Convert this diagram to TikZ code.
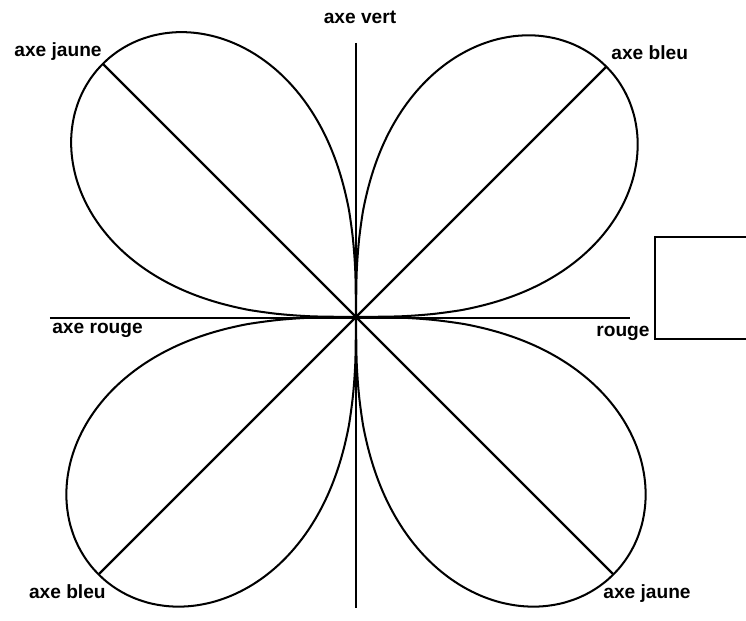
\documentclass[tikz,border=0pt]{standalone}
\usepackage{fontspec}
\setmainfont{Liberation Sans}
\usetikzlibrary{positioning, calc}

\begin{document}
\begin{tikzpicture}[
    x=0.02cm, y=0.02cm,
    axisline/.style={line width=1.2pt, draw=black},
    diagline/.style={line width=1.4pt, draw=black},
    lobe/.style={line width=1.15pt, draw=black, line join=round},
    axislabel/.style={font=\fontsize{10.9}{13}\selectfont\bfseries, inner sep=0pt},
    framebox/.style={line width=1.2pt, draw=black}
]

% === Page frame (reference proportions) ===
\useasboundingbox (-356, -304) rectangle (390, 317);

% === Layout constants ===
\def\lobeexp{0.6}

% === Centre and axis ends ===
\coordinate (c) at (0, 0);
\coordinate (hleft) at (-306, -1);
\coordinate (hright) at (274, -1);
\coordinate (vtop) at (0, 274);
\coordinate (vbot) at (0, -291);

% === Lobes (one per diagonal) ===
\foreach \ang/\rad/\nm in {45/354/tr, 135/358/tl, 225/364/bl, 315/364/br} {
    \pgfmathsetmacro{\lo}{\ang - 45}
    \pgfmathsetmacro{\hi}{\ang + 45}
    \coordinate (tip\nm) at (\ang:\rad);
    \draw[lobe] plot[domain=\lo:\hi, samples=121, smooth]
        (\x:{\rad*pow(max(cos(2*(\x-\ang)),0.0001),\lobeexp)});
}

% === Diagonals ===
\foreach \nm in {tr, tl, bl, br}
    \draw[diagline] (c) -- (tip\nm);

% === Axes ===
\draw[axisline] (hleft) -- (hright);
\draw[axisline] (vtop) -- (vbot);

% === Axis labels ===
\node[axislabel, anchor=base] (lvert) at (4, 293) {axe vert};
\node[axislabel, anchor=base east] (ljaunetl) at (-254, 260) {axe jaune};
\node[axislabel, anchor=base west] (lbleutr) at (255, 257) {axe bleu};
\node[axislabel, anchor=base west] (lrougel) at (-304, -17) {axe rouge};
\node[axislabel, anchor=base west] (lrouger) at (240, -20) {rouge};
\node[axislabel, anchor=base east] (lbleubl) at (-250, -281) {axe bleu};
\node[axislabel, anchor=base west] (ljaunebr) at (247, -281) {axe jaune};

% === Box at right (cut by page edge) ===
\coordinate (boxtr) at (392, 80);
\coordinate (boxtl) at (299, 80);
\coordinate (boxbl) at (299, -22);
\coordinate (boxbr) at (392, -22);
\draw[framebox] (boxtr) -- (boxtl) -- (boxbl) -- (boxbr);

\end{tikzpicture}
\end{document}
